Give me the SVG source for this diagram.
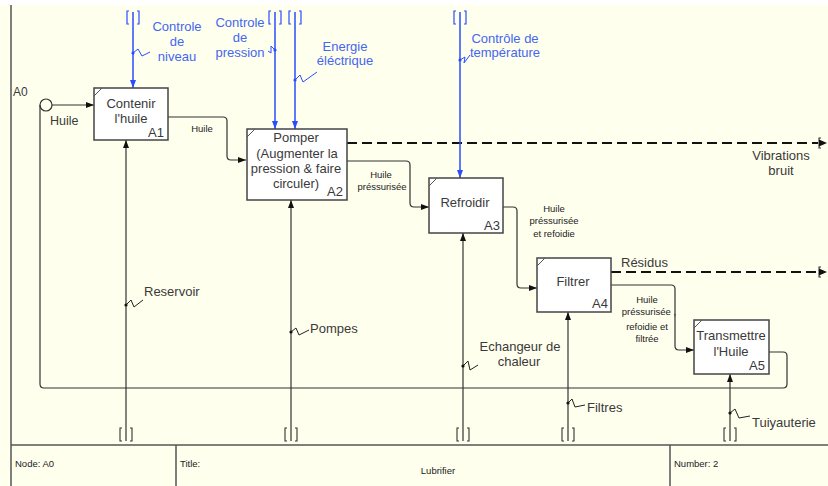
<svg xmlns="http://www.w3.org/2000/svg" width="828" height="486" viewBox="0 0 828 486">
<style>
.bg{fill:#ffffee}
.box{fill:#ffffff;stroke:#444;stroke-width:1.5}
.corner{stroke:#555;stroke-width:1;fill:none}
.bt{font-family:"Liberation Sans",Arial,sans-serif;font-size:13px;fill:#3a3a3a;text-anchor:middle}
.num{font-family:"Liberation Sans",Arial,sans-serif;font-size:13px;fill:#3a3a3a;text-anchor:end}
.ln{fill:none;stroke:#333;stroke-width:1.2}
.ar{fill:none;stroke:#333;stroke-width:1.2;marker-end:url(#ak)}
.bl{fill:none;stroke:#2a4cff;stroke-width:1.5;marker-end:url(#ab)}
.blb{fill:none;stroke:#2a4cff;stroke-width:1.2}
.bk{fill:none;stroke:#333;stroke-width:1.1}
.dash{fill:none;stroke:#111;stroke-width:2;stroke-dasharray:10 5}
.sq{fill:none;stroke:#222;stroke-width:1}
.sqb{fill:none;stroke:#2a4cff;stroke-width:1}
.ct{font-family:"Liberation Sans",Arial,sans-serif;font-size:13px;fill:#4466f0;text-anchor:middle}
.lab{font-family:"Liberation Sans",Arial,sans-serif;font-size:13px;fill:#3a3a3a}
.labm{font-family:"Liberation Sans",Arial,sans-serif;font-size:13px;fill:#3a3a3a;text-anchor:middle}
.sm{font-family:"Liberation Sans",Arial,sans-serif;font-size:9.5px;fill:#222;text-anchor:middle}
.ft{font-family:"Liberation Sans",Arial,sans-serif;font-size:9.5px;fill:#222}
.frame{stroke:#555;stroke-width:1.5;fill:none}
</style>
<defs>
<marker id="ak" viewBox="0 0 8 6" refX="8" refY="3" markerWidth="8" markerHeight="6" markerUnits="userSpaceOnUse" orient="auto"><path d="M0,0 L8,3 L0,6 z" fill="#111"/></marker>
<marker id="ab" viewBox="0 0 8 6" refX="8" refY="3" markerWidth="8" markerHeight="6" markerUnits="userSpaceOnUse" orient="auto"><path d="M0,0 L8,3 L0,6 z" fill="#2a4cff"/></marker>
</defs>
<rect x="0" y="0" width="828" height="486" fill="#ffffff"/>
<rect class="bg" x="0" y="5" width="828" height="481"/>
<g id="frame">
<path class="frame" d="M11,5 V486"/>
<path class="frame" d="M11,445 H828 M176,445 V486 M670,445 V486"/>
<text class="lab" x="13" y="96" style="font-size:12px">A0</text>
<text class="ft" x="15" y="467">Node:  A0</text>
<text class="ft" x="180" y="467">Title:</text>
<text class="ft" x="438" y="474" text-anchor="middle">Lubrifier</text>
<text class="ft" x="674" y="467">Number: 2</text>
</g>
<g id="connectors">
<!-- inputs / outputs -->
<circle cx="46" cy="105" r="6" class="ln"/>
<path class="ar" d="M52,105 H94"/>
<path class="ar" d="M168,117 H223 Q227,117 227,121 V156 Q227,160 231,160 H246"/>
<path class="ar" d="M347,161 H406 Q410,161 410,165 V203 Q410,207 414,207 H429"/>
<path class="ar" d="M503,207 H513 Q517,207 517,211 V284 Q517,288 521,288 H537"/>
<path class="ar" d="M611,285 H671 Q675,285 675,289 V346 Q675,350 679,350 H694"/>
<path class="ln" d="M769,352 H783 Q787,352 787,356 V384 Q787,388 783,388 H44 Q40,388 40,384 V105"/>
<path class="dash" d="M347,143 H818"/>
<path class="dash" d="M611,272 H818"/>
<path class="bk" d="M821,138 H819 V148 H821"/>
<path d="M819,139.5 L827,143 L819,146.5 z" fill="#111"/>
<path class="bk" d="M821,267 H819 V277 H821"/>
<path d="M819,268.5 L827,272 L819,275.5 z" fill="#111"/>
<!-- controls -->
<path class="bl" d="M133,12 V88"/>
<path class="bl" d="M275,12 V129"/>
<path class="bl" d="M295,12 V129"/>
<path class="bl" d="M460,12 V178"/>
<path class="blb" d="M129,11 H127 V24 H129 M137,11 H139 V24 H137"/>
<path class="blb" d="M271,11 H269 V24 H271 M279,11 H281 V24 H279"/>
<path class="blb" d="M291,11 H289 V24 H291 M299,11 H301 V24 H299"/>
<path class="blb" d="M456,11 H454 V24 H456 M464,11 H466 V24 H464"/>
<path class="sqb" d="M133,53 L138,49 L142,56 L150,52"/>
<circle cx="133" cy="53" r="1.6" fill="#2a4cff"/>
<path class="sqb" d="M275,50 L271,46 L271,53 L268,51"/>
<circle cx="275" cy="50" r="1.6" fill="#2a4cff"/>
<path class="sqb" d="M295,80 L300,75 L303,82 L317,72"/>
<circle cx="295" cy="80" r="1.6" fill="#2a4cff"/>
<path class="sqb" d="M460,60 L465,57 L464,63 L470,55"/>
<circle cx="460" cy="60" r="1.6" fill="#2a4cff"/>
<!-- mechanisms -->
<path class="ar" d="M126,441 V140"/>
<path class="ar" d="M291,441 V200"/>
<path class="ar" d="M463,441 V233"/>
<path class="ar" d="M568,441 V312"/>
<path class="ar" d="M730,441 V374"/>
<path class="bk" d="M122,428 H120 V441 H122 M130,428 H132 V441 H130"/>
<path class="bk" d="M287,428 H285 V441 H287 M295,428 H297 V441 H295"/>
<path class="bk" d="M459,428 H457 V441 H459 M467,428 H469 V441 H467"/>
<path class="bk" d="M564,428 H562 V441 H564 M572,428 H574 V441 H572"/>
<path class="bk" d="M726,428 H724 V441 H726 M734,428 H736 V441 H734"/>
<path class="sq" d="M126,305 L131,300 L134,307 L143,300"/>
<circle cx="126" cy="305" r="1.6" fill="#111"/>
<path class="sq" d="M291,332 L296,328 L299,335 L309,330"/>
<circle cx="291" cy="332" r="1.6" fill="#111"/>
<path class="sq" d="M463,366 L468,361 L470,370 L478,365"/>
<circle cx="463" cy="366" r="1.6" fill="#111"/>
<path class="sq" d="M568,403 L572,399 L575,407 L585,405"/>
<circle cx="568" cy="403" r="1.6" fill="#111"/>
<path class="sq" d="M730,413 L735,409 L739,418 L750,416"/>
<circle cx="730" cy="413" r="1.6" fill="#111"/>
</g>
<g id="labels">
<text class="lab" x="50" y="125" style="font-size:12.5px">Huile</text>
<text class="sm" x="202" y="132">Huile</text>
<text class="sm" x="381" y="178">Huile</text>
<text class="sm" x="382" y="190">préssurisée</text>
<text class="sm" x="554" y="212">Huile</text>
<text class="sm" x="554" y="224">préssurisée</text>
<text class="sm" x="554" y="237">et refoidie</text>
<text class="sm" x="647" y="303">Huile</text>
<text class="sm" x="649" y="315">préssurisée ,</text>
<text class="sm" x="647" y="330">refoidie et</text>
<text class="sm" x="647" y="342">filtrée</text>
<text class="labm" x="781" y="160">Vibrations</text>
<text class="labm" x="781" y="175">bruit</text>
<text class="lab" x="621" y="267">Résidus</text>
<text class="ct" x="177" y="31">Controle</text>
<text class="ct" x="177" y="46">de</text>
<text class="ct" x="177" y="61">niveau</text>
<text class="ct" x="240" y="27">Controle</text>
<text class="ct" x="240" y="42">de</text>
<text class="ct" x="240" y="57">pression</text>
<text class="ct" x="345" y="51">Energie</text>
<text class="ct" x="345" y="65">éléctrique</text>
<text class="ct" x="505" y="43">Contrôle de</text>
<text class="ct" x="505" y="57">température</text>
<text class="lab" x="144" y="296">Reservoir</text>
<text class="lab" x="310" y="333">Pompes</text>
<text class="labm" x="520" y="351">Echangeur de</text>
<text class="labm" x="519" y="366">chaleur</text>
<text class="lab" x="587" y="412">Filtres</text>
<text class="lab" x="752" y="427">Tuiyauterie</text>
</g>
<g id="A1">
<rect class="box" x="94" y="88" width="74" height="52"/>
<path class="corner" d="M94,96 L102,88"/>
<text class="bt" x="131" y="108">Contenir</text>
<text class="bt" x="131" y="123">l'huile</text>
<text class="num" x="164" y="137">A1</text>
</g>
<g id="A2">
<rect class="box" x="247" y="129" width="100" height="71"/>
<path class="corner" d="M247,137 L255,129"/>
<text class="bt" x="296" y="142">Pomper</text>
<text class="bt" x="297" y="157.5">(Augmenter la</text>
<text class="bt" x="296" y="172.5">pression &amp; faire</text>
<text class="bt" x="296" y="187.5">circuler)</text>
<text class="num" x="343" y="196">A2</text>
</g>
<g id="A3">
<rect class="box" x="429" y="178" width="74" height="55"/>
<path class="corner" d="M429,186 L437,178"/>
<text class="bt" x="465" y="207">Refroidir</text>
<text class="num" x="500" y="230">A3</text>
</g>
<g id="A4">
<rect class="box" x="537" y="258" width="74" height="54"/>
<path class="corner" d="M537,266 L545,258"/>
<text class="bt" x="573" y="286">Filtrer</text>
<text class="num" x="608" y="308">A4</text>
</g>
<g id="A5">
<rect class="box" x="694" y="320" width="75" height="54"/>
<path class="corner" d="M694,328 L702,320"/>
<text class="bt" x="731" y="340">Transmettre</text>
<text class="bt" x="731" y="356">l'Huile</text>
<text class="num" x="765" y="370">A5</text>
</g>
</svg>
